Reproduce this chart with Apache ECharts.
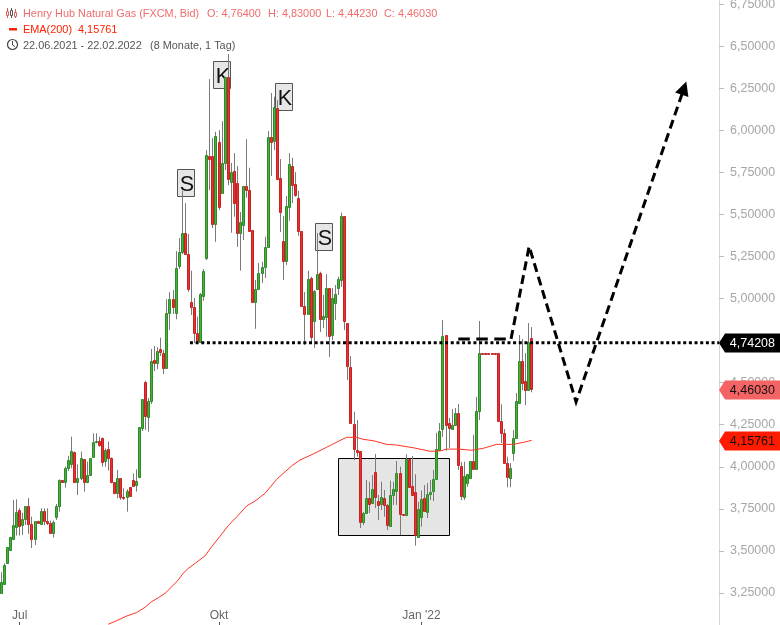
<!DOCTYPE html>
<html>
<head>
<meta charset="utf-8">
<title>Henry Hub Natural Gas</title>
<script src="https://cdn.jsdelivr.net/npm/echarts@6/dist/echarts.min.js"></script>
<style>
html,body{margin:0;padding:0;background:#fff}
#chart{width:780px;height:625px}
</style>
</head>
<body>
<div id="chart"></div>
<script>
var opens = [
3.189,3.252,3.306,3.430,3.506,3.573,3.644,3.743,3.652,3.688,
3.765,3.662,3.569,3.676,3.662,3.735,3.680,3.664,3.609,3.704,
3.765,3.921,3.911,3.991,4.014,4.086,3.911,3.931,4.044,3.911,
3.949,4.056,4.145,4.151,4.169,4.032,4.103,4.050,3.908,3.842,
3.931,3.818,3.818,3.878,3.919,3.890,3.937,4.228,4.502,4.294,
4.392,4.632,4.618,4.698,4.674,4.585,4.912,4.995,4.912,5.191,
5.274,5.387,5.262,4.981,4.947,4.797,4.743,5.016,5.242,5.845,
5.845,5.441,5.928,5.625,5.807,6.318,5.694,5.755,5.684,5.391,
5.438,5.666,5.643,5.405,4.977,5.054,5.153,5.189,5.304,5.958,
5.937,6.130,5.714,5.340,5.224,5.545,5.789,5.678,5.597,5.399,
4.953,4.906,5.120,4.868,5.054,5.149,4.880,4.888,5.060,4.785,
4.975,5.060,5.110,5.490,4.852,4.591,4.252,4.098,4.092,3.673,
3.723,3.812,3.786,3.967,3.795,3.779,3.812,3.771,3.648,3.830,
3.858,3.961,3.719,3.715,4.044,3.884,3.848,3.584,3.700,3.812,
3.733,3.836,3.854,3.925,4.100,4.222,4.781,4.258,4.227,4.250,
4.318,4.004,3.822,3.902,3.935,4.032,3.985,4.333,4.674,4.674,
4.674,4.674,4.674,4.674,4.274,4.199,4.020,3.931,4.083,4.173,
4.381,4.627,4.508,4.456,4.764];
var closes = [
3.248,3.314,3.416,3.523,3.583,3.652,3.731,3.650,3.688,3.765,
3.662,3.569,3.676,3.668,3.735,3.680,3.664,3.609,3.670,3.765,
3.919,3.911,3.991,4.038,4.092,3.911,3.931,4.050,3.911,3.949,
4.050,4.145,4.151,4.127,4.030,4.098,4.050,3.908,3.842,3.931,
3.822,3.812,3.854,3.828,3.888,3.913,4.234,4.403,4.303,4.392,
4.627,4.618,4.686,4.684,4.589,4.912,4.995,4.951,5.179,5.274,
5.387,5.264,5.058,4.947,4.793,4.747,5.025,5.163,5.851,5.830,
5.444,5.963,5.545,5.803,6.318,5.708,5.750,5.569,5.387,5.452,
5.666,5.643,5.403,4.977,5.054,5.149,5.185,5.304,5.958,5.931,
6.139,5.708,5.516,5.224,5.548,5.797,5.676,5.616,5.403,4.957,
4.909,5.114,4.773,5.042,5.144,4.880,4.896,5.060,4.779,5.001,
5.025,5.114,5.490,4.868,4.600,4.262,4.104,4.090,3.673,3.723,
3.812,3.780,3.866,3.818,3.773,3.818,3.773,3.656,3.830,3.866,
3.961,3.717,3.715,4.044,3.881,3.834,3.593,3.747,3.807,3.739,
3.836,3.850,3.925,4.104,4.211,4.777,4.248,4.228,4.246,4.322,
4.010,3.828,3.945,3.957,4.032,3.988,4.330,4.674,4.672,4.672,
4.672,4.672,4.672,4.274,4.199,4.020,3.937,3.991,4.173,4.389,
4.627,4.499,4.454,4.739,4.4603];
var highs = [
3.288,3.373,3.426,3.523,3.583,3.803,3.806,3.753,3.727,3.765,
3.814,3.704,3.676,3.680,3.753,3.753,3.753,3.680,3.680,3.779,
3.925,3.921,4.001,4.064,4.179,4.090,4.014,4.090,4.044,4.030,
4.050,4.199,4.199,4.179,4.175,4.109,4.149,4.056,3.908,3.981,
3.931,3.872,3.866,3.878,3.961,3.985,4.234,4.403,4.511,4.408,
4.700,4.717,4.710,4.767,4.694,4.995,5.038,5.050,5.282,5.359,
5.640,5.567,5.383,5.165,5.003,4.892,5.032,5.175,5.882,6.304,
5.953,5.991,6.001,6.054,6.318,6.453,5.805,5.864,5.787,5.514,
5.668,5.947,5.777,5.407,5.110,5.211,5.218,5.367,5.995,6.221,
6.199,6.179,5.829,5.490,5.609,5.864,5.836,5.751,5.640,5.401,
5.038,5.165,5.129,5.050,5.389,5.159,5.021,5.144,5.062,5.062,
5.080,5.129,5.510,5.490,4.854,4.658,4.327,4.278,4.094,3.731,
3.921,3.911,3.951,4.076,3.832,3.911,3.862,3.779,3.917,3.911,
4.034,4.000,3.719,4.074,4.046,4.064,3.955,3.792,3.858,3.891,
3.903,3.921,3.981,4.202,4.260,4.872,4.783,4.290,4.343,4.349,
4.373,4.028,4.030,3.957,4.034,4.189,4.416,4.866,4.674,4.674,
4.674,4.674,4.674,4.676,4.371,4.224,4.060,4.022,4.218,4.438,
4.783,4.759,4.676,4.854,4.83];
var lows = [
3.129,3.248,3.302,3.426,3.502,3.565,3.591,3.591,3.595,3.654,
3.601,3.517,3.535,3.668,3.654,3.652,3.654,3.605,3.579,3.684,
3.733,3.906,3.876,3.975,3.991,3.906,3.832,3.921,3.852,3.902,
3.945,4.056,4.139,4.119,4.001,4.001,3.977,3.902,3.836,3.812,
3.803,3.803,3.733,3.828,3.882,3.852,3.931,4.212,4.218,4.208,
4.373,4.569,4.579,4.658,4.551,4.585,4.813,4.908,4.876,5.175,
5.264,5.258,5.040,4.902,4.735,4.743,4.743,4.987,5.228,5.644,
5.419,5.337,5.526,5.621,5.763,5.674,5.391,5.486,5.307,5.165,
5.347,5.599,5.397,4.973,4.820,5.050,5.092,5.122,5.300,5.728,
5.882,5.704,5.395,5.110,5.199,5.462,5.567,5.605,5.373,4.955,
4.723,4.902,4.735,4.707,5.050,4.801,4.824,4.773,4.652,4.753,
4.872,5.021,5.070,4.812,4.515,4.260,4.040,4.060,3.636,3.654,
3.719,3.725,3.784,3.755,3.684,3.743,3.703,3.624,3.645,3.773,
3.773,3.594,3.715,3.713,3.880,3.829,3.531,3.577,3.644,3.737,
3.695,3.802,3.796,3.921,4.094,4.178,4.095,4.111,4.224,4.248,
3.981,3.802,3.802,3.881,3.933,3.986,3.981,4.278,4.672,4.672,
4.672,4.672,4.672,4.272,4.141,4.019,3.878,3.878,4.036,4.171,
4.379,4.456,4.367,4.453,4.4423];

var emaDays = [35.9,38.6,41.9,45.1,47.9,50,52.2,54.4,56.6,58.7,60.3,62,64.2,67.4,69.6,71.8,75,77.8,81,83.7,87,90.8,93.5,96,98.4,102.7,107.1,111.4,113.6,116.9,118.9,122.2,126.7,129.9,135.3,140.8,144.1,146.2,150,154.4,158.2,162.5,167.9,171.2,173.9];
var emaValues = [3.064,3.085,3.113,3.133,3.165,3.198,3.222,3.248,3.287,3.327,3.367,3.396,3.426,3.470,3.525,3.575,3.650,3.703,3.767,3.796,3.842,3.925,3.970,4.010,4.040,4.076,4.116,4.156,4.175,4.175,4.163,4.155,4.133,4.129,4.113,4.092,4.094,4.105,4.105,4.098,4.110,4.133,4.133,4.145,4.157];

// x axis runs on past the last candle, empty slots on the right
var slotCount = 236;
var tickDays = [7, 72, 138];
var tickNames = ['Jul', 'Okt', "Jan '22"];

var levelValue = 4.737;
var levelDays = [62.5, 235];
var flatDays = [150, 167.2];
var flatValues = [4.76, 4.76];
var pathDays = [167.2, 173.1, 188.4, 223.6];
var pathValues = [4.76, 5.31, 4.385, 6.25];
var boxArea = [110.8, 4.052, 147, 3.595];
var waveNames = ['S', 'K', 'K', 'S'];
var waveDays = [61.06, 72.8, 93.3, 106.3];
var waveValues = [5.689, 6.331, 6.20, 5.368];
var tagValues = [4.74208, 4.46030, 4.15761];
var tagFills = ['#000000', '#f56464', '#ff1a00'];
var tagInks = ['#ffffff', '#111111', '#111111'];

var font = '"Liberation Sans", Arial, sans-serif';

function comma(v) {
  return v.toFixed(5).replace('.', ',');
}

var categories = [];
for (var n = 0; n < slotCount; n++) categories.push('');
tickDays.forEach(function (d, k) { categories[d] = tickNames[k]; });

var candleData = opens.map(function (o, i) {
  return [i, o, closes[i], lows[i], highs[i]];
});

function drawCandle(params, api) {
  var i = api.value(0), o = api.value(1), c = api.value(2);
  var up = c >= o;
  var top = api.coord([i, Math.max(o, c)]);
  var bot = api.coord([i, Math.min(o, c)]);
  var hi = api.coord([i, api.value(4)]);
  var lo = api.coord([i, api.value(3)]);
  var cx = Math.floor(top[0]);
  var y0 = Math.round(top[1]);
  var y1 = Math.round(bot[1]);
  return {
    type: 'group',
    children: [
      { type: 'line', shape: { x1: cx + 0.5, y1: hi[1], x2: cx + 0.5, y2: lo[1] }, style: { stroke: '#7a7a7a', lineWidth: 1 } },
      { type: 'rect', shape: { x: cx - 0.5, y: y0 + 0.5, width: 2, height: Math.max(y1 - y0, 0) },
        style: { fill: up ? '#4aaf33' : '#ea3232', stroke: up ? '#2c8a2c' : '#c62222', lineWidth: 1 } }
    ]
  };
}

function drawArea(params, api) {
  var a = api.coord([api.value(0), api.value(1)]);
  var b = api.coord([api.value(2), api.value(3)]);
  return { type: 'rect',
    shape: { x: Math.round(a[0]) + 0.5, y: Math.round(a[1]) + 0.5, width: Math.round(b[0] - a[0]), height: Math.round(b[1] - a[1]) },
    style: { fill: '#e5e5e5', stroke: '#000', lineWidth: 1 } };
}

function drawWave(params, api) {
  var p = api.coord([api.value(0), api.value(1)]);
  var x = Math.round(p[0]), y = Math.round(p[1]);
  return {
    type: 'group',
    children: [
      { type: 'rect', shape: { x: x - 8.5, y: y - 13.5, width: 17, height: 27 }, style: { fill: '#e6e6e6', stroke: '#555', lineWidth: 1 } },
      { type: 'text', style: { x: x + 1, y: y + 2, text: waveNames[params.dataIndex], fill: '#111', font: '21.5px ' + font, textAlign: 'center', textVerticalAlign: 'middle' } }
    ]
  };
}

function drawTag(params, api) {
  var k = params.dataIndex;
  var p = api.coord([api.value(0), api.value(1)]);
  var x = p[0], y = Math.round(p[1]) + 1;
  return {
    type: 'group',
    children: [
      { type: 'polygon', shape: { points: [[x, y], [x + 6, y - 9.5], [780, y - 9.5], [780, y + 9.5], [x + 6, y + 9.5]] }, style: { fill: tagFills[k] } },
      { type: 'text', style: { x: 775, y: y + 0.5, text: comma(tagValues[k]), fill: tagInks[k], font: '12.5px ' + font, textAlign: 'right', textVerticalAlign: 'middle' } }
    ]
  };
}

function zipPairs(xs, ys) {
  return xs.map(function (x, i) { return [x, ys[i]]; });
}

function headerText(x, y, text, color) {
  return { type: 'text', x: x, y: y, silent: true, z: 100,
    style: { text: text, fill: color, font: '10.9px ' + font, textVerticalAlign: 'middle' } };
}

var headRed = '#f06c6c';
var headerItems = [
  headerText(23, 14, 'Henry Hub Natural Gas (FXCM, Bid)', headRed),
  headerText(207, 14, 'O: 4,76400', headRed),
  headerText(268, 14, 'H: 4,83000', headRed),
  headerText(326, 14, 'L: 4,44230', headRed),
  headerText(384, 14, 'C: 4,46030', headRed),
  headerText(23, 30, 'EMA(200)', '#ff2200'),
  headerText(78, 30, '4,15761', '#ff2200'),
  headerText(23, 46, '22.06.2021 - 22.02.2022', '#555555'),
  headerText(150, 46, '(8 Monate, 1 Tag)', '#555555'),
  // kerzen icon
  { type: 'line', shape: { x1: 7.5, y1: 8, x2: 7.5, y2: 18 }, style: { stroke: '#e05a5a', lineWidth: 1 }, z: 100 },
  { type: 'rect', shape: { x: 6.5, y: 11.5, width: 2, height: 4 }, style: { fill: '#fff', stroke: '#e05a5a', lineWidth: 1 }, z: 100 },
  { type: 'line', shape: { x1: 11.5, y1: 8, x2: 11.5, y2: 18 }, style: { stroke: '#555', lineWidth: 1 }, z: 100 },
  { type: 'rect', shape: { x: 10.5, y: 10.5, width: 2, height: 5 }, style: { fill: '#fff', stroke: '#555', lineWidth: 1 }, z: 100 },
  { type: 'line', shape: { x1: 15.5, y1: 9, x2: 15.5, y2: 18 }, style: { stroke: '#e05a5a', lineWidth: 1 }, z: 100 },
  { type: 'rect', shape: { x: 14.5, y: 12.5, width: 2, height: 4 }, style: { fill: '#fff', stroke: '#e05a5a', lineWidth: 1 }, z: 100 },
  // EMA strich
  { type: 'rect', shape: { x: 9, y: 28, width: 8, height: 2.5 }, style: { fill: '#ff2200' }, z: 100 },
  // uhr
  { type: 'circle', shape: { cx: 12.5, cy: 44.5, r: 5 }, style: { fill: 'none', stroke: '#444', lineWidth: 1.2 }, z: 100 },
  { type: 'polyline', shape: { points: [[12.5, 41], [12.5, 45], [15, 46.5]] }, style: { fill: 'none', stroke: '#444', lineWidth: 1 }, z: 100 }
];

var myChart = echarts.init(document.getElementById('chart'), null, { renderer: 'canvas' });
var option = {
  animation: false,
  backgroundColor: '#fff',
  grid: { left: -1.77, right: 61, top: -38, bottom: -10, containLabel: false, outerBoundsMode: 'none' },
  xAxis: [
    {
      type: 'category',
      data: categories,
      boundaryGap: false,
      axisLine: { show: false },
      axisTick: { inside: true, length: 13, lineStyle: { color: '#555' }, interval: function (i, v) { return v !== ''; } },
      axisLabel: { inside: true, margin: 13, color: '#666', fontFamily: font, fontSize: 12, interval: function (i, v) { return v !== ''; } },
      splitLine: { show: false }
    },
    { type: 'value', min: 0, max: slotCount - 1, show: false }
  ],
  yAxis: {
    type: 'value',
    position: 'right',
    min: 3,
    max: 7,
    interval: 0.25,
    axisLine: { show: true, onZero: false, lineStyle: { color: '#d8d8d8' } },
    axisTick: { show: true, length: 5, lineStyle: { color: '#bbb' } },
    axisLabel: { color: '#a6a6a6', fontFamily: font, fontSize: 12.5, margin: 11, padding: [2, 0, 0, 0], formatter: comma },
    splitLine: { show: false }
  },
  graphic: headerItems,
  series: [
    { type: 'custom', name: 'box', z: 1, xAxisIndex: 1, renderItem: drawArea, data: [boxArea], silent: true },
    { type: 'custom', name: 'wave', z: 2, xAxisIndex: 1, renderItem: drawWave, data: zipPairs(waveDays, waveValues), silent: true },
    { type: 'custom', name: 'candles', z: 3, renderItem: drawCandle, data: candleData, encode: { x: 0, y: [1, 2, 3, 4] }, silent: true },
    { type: 'line', name: 'EMA(200)', z: 4, xAxisIndex: 1, data: zipPairs(emaDays, emaValues), showSymbol: false, lineStyle: { color: '#ff3322', width: 1 }, silent: true },
    { type: 'line', name: 'flat', z: 5, xAxisIndex: 1, data: zipPairs(flatDays, flatValues), showSymbol: false, lineStyle: { color: '#000', width: 3, type: [11.5, 6.5] }, silent: true },
    { type: 'line', name: 'path', z: 5, xAxisIndex: 1, data: zipPairs(pathDays, pathValues), showSymbol: false, lineStyle: { color: '#000', width: 3, type: [9, 5], join: 'miter' }, silent: true },
    { type: 'scatter', name: 'arrow', z: 5, xAxisIndex: 1, data: [[pathDays[3], pathValues[3]]], symbol: 'triangle', symbolSize: 14, symbolRotate: -19, itemStyle: { color: '#000', opacity: 1 }, silent: true },
    { type: 'line', name: 'level', z: 6, xAxisIndex: 1, data: [[levelDays[0], levelValue], [levelDays[1], levelValue]], showSymbol: false, lineStyle: { color: '#000', width: 3, type: [3, 2.67] }, silent: true },
    { type: 'custom', name: 'tags', z: 10, xAxisIndex: 1, renderItem: drawTag, data: tagValues.map(function (v) { return [slotCount - 1, v]; }), silent: true }
  ]
};
option && myChart.setOption(option);
</script>
</body>
</html>
